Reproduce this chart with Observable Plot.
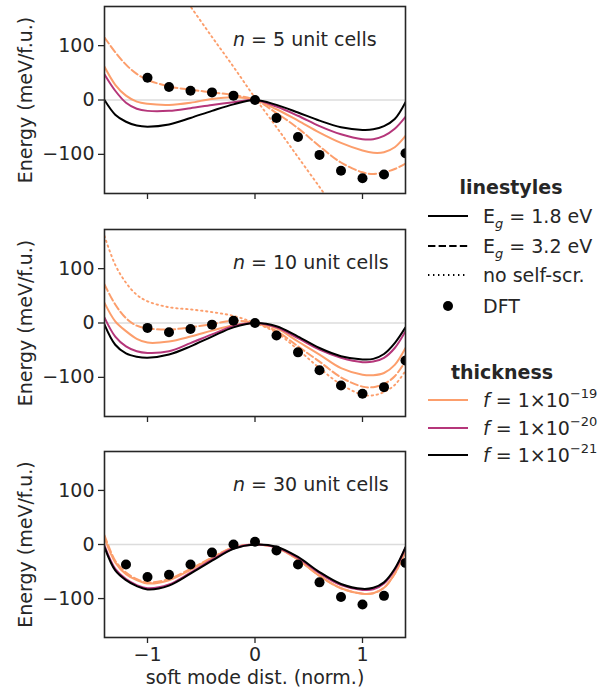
<!DOCTYPE html>
<html><head><meta charset="utf-8">
<script src="https://cdn.jsdelivr.net/npm/d3@7"></script>
<script src="https://cdn.jsdelivr.net/npm/@observablehq/plot@0.6"></script>
<style>
body{margin:0;background:#fff;}
#wrap{position:relative;width:605px;height:692px;font-family:"DejaVu Sans",sans-serif;color:#262626;}
#wrap > svg{position:absolute;}
</style></head><body><div id="wrap"></div>
<script>
// ---------- data ----------
const xs = [-1.4,-1.3,-1.2,-1.1,-1.0,-0.8,-0.6,-0.4,-0.2,0,0.2,0.4,0.6,0.8,1.0,1.1,1.2,1.3,1.4];

// n = 5 unit cells
const n5_f21_eg18 = [0,-27,-40,-47,-49,-45,-33,-20,-8,0,-9,-23,-38,-50,-55,-54,-48,-35,-4];
const n5_f20_eg18 = [47,17,-5,-16,-20,-20,-15,-9,-4,0,-12,-29,-48,-63,-72,-72,-66,-53,-31];
const n5_f19_eg18 = [61,28,8,-3,-7,-9,-5,2,5,0,-17,-38,-60,-79,-93,-97,-96,-87,-66];
const n5_f19_eg32 = [115,88,65,48,37,25,19,14,9,0,-24,-52,-85,-115,-133,-136,-133,-127,-117];
const n5_noscr_x = [-0.7,-0.6,-0.4,-0.2,0,0.2,0.4,0.6,0.7];
const n5_noscr   = [200,172,116,61,4,-50,-105,-160,-188];

// n = 10 unit cells
const n10_f21_eg18 = [-3,-40,-56,-62,-64,-58,-43,-25,-8,0,-6,-25,-46,-61,-67,-66,-57,-37,-8];
const n10_f20_eg18 = [10,-25,-43,-52,-55,-52,-37,-21,-6,0,-8,-28,-49,-64,-72,-71,-64,-46,-15];
const n10_f19_eg18 = [37,3,-15,-29,-36,-34,-25,-14,-4,0,-10,-34,-58,-83,-95,-96,-92,-77,-46];
const n10_f19_eg32 = [71,34,9,-5,-10,-12,-8,-2,4,0,-15,-43,-71,-100,-117,-118,-112,-98,-70];
const n10_noscr_x = xs;
const n10_noscr   = [160,107,74,52,40,29,25,20,13,0,-18,-49,-83,-113,-132,-133,-127,-114,-88];

// n = 30 unit cells
const n30_f21_eg18 = [-5,-48,-66,-77,-83,-76,-54,-30,-8,0,-4,-23,-51,-73,-82,-80,-70,-45,-5];
const n30_f20_eg18 = [-2,-45,-64,-75,-81,-74,-52,-28,-7,0,-5,-25,-53,-75,-84,-83,-72,-47,-6];
const n30_f19_eg18 = [12,-33,-55,-66,-72,-66,-47,-25,-6,0,-6,-28,-58,-81,-91,-90,-80,-54,-12];
const n30_f19_eg32 = [17,-30,-52,-64,-70,-64,-45,-24,-5,0,-6,-28,-58,-81,-91,-90,-80,-54,-12];

// DFT
const dft5_x  = [-1,-0.8,-0.6,-0.4,-0.2,0,0.2,0.4,0.6,0.8,1,1.2,1.4];
const dft5    = [41,24,17,14,8,0,-33,-68,-101,-130,-144,-137,-98];
const dft10_x = [-1,-0.8,-0.6,-0.4,-0.2,0,0.2,0.4,0.6,0.8,1,1.2,1.4];
const dft10   = [-9,-17,-11,-3,4,0,-23,-54,-87,-115,-130,-118,-69];
const dft30_x = [-1.2,-1,-0.8,-0.6,-0.4,-0.2,0,0.2,0.4,0.6,0.8,1,1.2,1.4];
const dft30   = [-37,-60,-56,-37,-15,0,5,-11,-37,-70,-97,-111,-95,-34];

const nLabels = ["5","10","30"];
const xTicks = [-1,0,1];
const yTicks = [-100,0,100];
const thicknessLabels = ["19","20","21"];
const linestyleLabels = ["1.8","3.2"];

// ---------- styling ----------
const C = {f19:"#fc9e6c", f20:"#b5367a", f21:"#000000"};
const TXT = "#262626";
const FONT = "DejaVu Sans";
const DOTTED = "1.4,3.6";
const DASHED = "7.4,3.2";

const panels = [
  {n:nLabels[0], f21:n5_f21_eg18, f20:n5_f20_eg18, f19:n5_f19_eg18, dash:n5_f19_eg32, dotX:n5_noscr_x, dot:n5_noscr, dftX:dft5_x, dft:dft5},
  {n:nLabels[1], f21:n10_f21_eg18, f20:n10_f20_eg18, f19:n10_f19_eg18, dash:n10_f19_eg32, dotX:n10_noscr_x, dot:n10_noscr, dftX:dft10_x, dft:dft10},
  {n:nLabels[2], f21:n30_f21_eg18, f20:n30_f20_eg18, f19:n30_f19_eg18, dash:n30_f19_eg32, dotX:null, dot:null, dftX:dft30_x, dft:dft30}
];

const zip = (X, Y) => X.map((x, i) => ({x, y: Y[i]}));

function makePanel(p, last) {
  const height = last ? 247 : 223;
  const marginBottom = last ? 55 : 30;
  const lineOpts = (stroke, extra={}) => ({x:"x", y:"y", stroke, strokeWidth:2, curve:"catmull-rom", clip:true, ...extra});
  const marks = [
    Plot.ruleY([0], {stroke:"#dcdcdc", strokeWidth:1.6}),
  ];
  if (p.dot) marks.push(Plot.line(zip(p.dotX, p.dot), lineOpts(C.f19, {strokeDasharray:DOTTED, strokeWidth:1.9})));
  marks.push(Plot.line(zip(xs, p.dash), lineOpts(C.f19, {strokeDasharray:DASHED})));
  marks.push(Plot.line(zip(xs, p.f19), lineOpts(C.f19)));
  marks.push(Plot.line(zip(xs, p.f20), lineOpts(C.f20)));
  marks.push(Plot.line(zip(xs, p.f21), lineOpts(C.f21)));
  marks.push(Plot.dot(zip(p.dftX, p.dft), {x:"x", y:"y", r:5, fill:"#000", stroke:"none", clip:true}));
  marks.push(Plot.frame({stroke:TXT, strokeWidth:1.6}));
  marks.push(Plot.axisY({ticks:yTicks, tickSize:6, tickPadding:4, label:null, stroke:TXT, strokeWidth:1.3, fill:TXT}));
  marks.push(Plot.axisX({ticks:xTicks, tickSize:6, tickPadding:4, label:null, stroke:TXT, strokeWidth:1.3, fill:TXT,
    tickFormat: last ? (d => d3.format("d")(d)) : (() => "")}));
  marks.push(Plot.text(["Energy (meV/f.u.)"], {frameAnchor:"left", dx:-79, rotate:-90, fontSize:19, fill:TXT, textAnchor:"middle", lineAnchor:"middle"}));
  marks.push(Plot.text([`n = ${p.n} unit cells`], {x:[-0.205], frameAnchor:"top", dy:33, textAnchor:"start", lineAnchor:"middle", fontSize:19, fill:TXT}));
  if (last) marks.push(Plot.text(["soft mode dist. (norm.)"], {frameAnchor:"bottom", dy:40, textAnchor:"middle", lineAnchor:"middle", fontSize:19, fill:TXT}));
  const svg = Plot.plot({
    width: 410, height,
    marginLeft: 104, marginRight: 5, marginTop: 6, marginBottom,
    x: {domain:[-1.4, 1.4]},
    y: {domain:[-172, 172]},
    style: {fontSize:"19px", fontFamily:FONT, color:TXT, background:"transparent", overflow:"visible"},
    marks
  });
  // italic "n"
  d3.select(svg).selectAll("text").each(function() {
    const t = this.textContent;
    if (t.startsWith("n = ")) {
      const el = d3.select(this);
      el.text(null);
      el.append("tspan").attr("font-style","italic").text("n");
      el.append("tspan").text(t.slice(1));
    }
  });
  return svg;
}

const wrap = document.getElementById("wrap");
const tops = [0, 223, 445];
panels.forEach((p, i) => {
  const svg = makePanel(p, i === 2);
  svg.style.left = "0px";
  svg.style.top = tops[i] + "px";
  svg.style.position = "absolute";
  wrap.appendChild(svg);
});

// ---------- legend ----------
const lg = d3.create("svg").attr("width", 195).attr("height", 300)
  .style("left","410px").style("top","170px").style("position","absolute")
  .attr("font-family", FONT).attr("font-size", 19).attr("fill", TXT);
const ox = 410, oy = 170;
function title(txt, cx, cy) {
  lg.append("text").attr("x", cx-ox).attr("y", cy-oy).attr("text-anchor","middle")
    .attr("dominant-baseline","central").attr("font-weight","bold").text(txt);
}
function sample(cy, stroke, dash, w) {
  lg.append("line").attr("x1", 428-ox).attr("x2", 468-ox).attr("y1", cy-oy).attr("y2", cy-oy)
    .attr("stroke", stroke).attr("stroke-width", w || 2).attr("stroke-dasharray", dash || null);
}
function label(cy) {
  return lg.append("text").attr("x", 483-ox).attr("y", cy-oy+7);
}
title("linestyles", 511, 187);
const lsRows = [216, 246, 275, 306];
linestyleLabels.forEach((v, i) => {
  sample(lsRows[i], "#000", i === 1 ? DASHED : null);
  const t = label(lsRows[i]);
  t.append("tspan").text("E");
  t.append("tspan").attr("font-style","italic").attr("font-size", 13).attr("dy", 5).text("g");
  t.append("tspan").attr("dy", -5).text(` = ${v} eV`);
});
sample(lsRows[2], "#000", DOTTED, 1.9);
label(lsRows[2]).text("no self-scr.");
lg.append("circle").attr("cx", 448-ox).attr("cy", lsRows[3]-oy).attr("r", 5).attr("fill", "#000");
label(lsRows[3]).text("DFT");

title("thickness", 502, 372);
const thRows = [400, 428, 455];
const thColors = [C.f19, C.f20, C.f21];
thicknessLabels.forEach((v, i) => {
  sample(thRows[i], thColors[i]);
  const t = label(thRows[i]);
  t.append("tspan").attr("font-style","italic").text("f");
  t.append("tspan").text(" = 1×10");
  t.append("tspan").attr("font-size", 13).attr("dy", -9).text(`−${v}`);
});
wrap.appendChild(lg.node());
</script>
</body></html>
